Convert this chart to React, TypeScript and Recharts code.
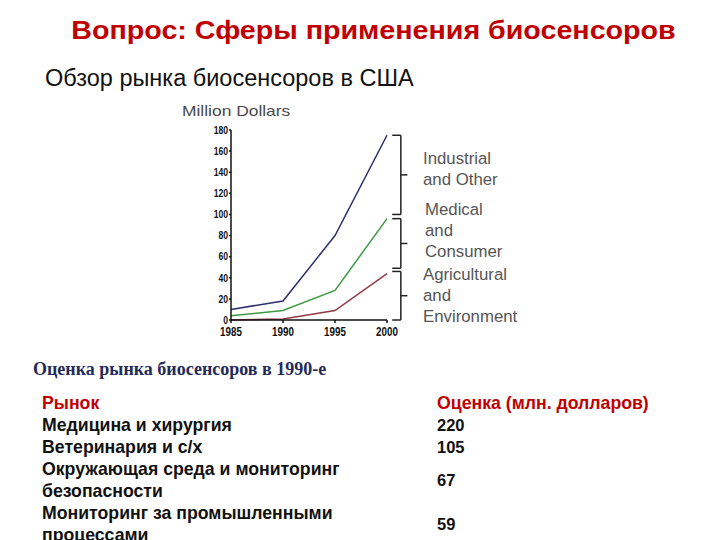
import React from "react";
import { LineChart, Line, XAxis, YAxis, ReferenceLine } from "recharts";

const years = [1985, 1990, 1995, 2000];
const industrial = [10, 18, 80, 175];
const medical = [4, 9, 28, 96];
const agricultural = [0, 1, 9, 44];
const yTicks = [0, 20, 40, 60, 80, 100, 120, 140, 160, 180];

const groupNames = [["Industrial", "and Other"], ["Medical", "and", "Consumer"], ["Agricultural", "and", "Environment"]];
const bracketRanges = [[100, 175], [49, 96], [0, 46]];

const markets = [
  "Медицина и хирургия",
  "Ветеринария и с/х",
  "Окружающая среда и мониторинг безопасности",
  "Мониторинг за промышленными процессами",
];
const estimates = [220, 105, 67, 59];

const data = years.map((y, i) => ({ year: y, industrial: industrial[i], medical: medical[i], agricultural: agricultural[i] }));

// bracket geometry in year units beyond the last year
const armStart = 2000.5;
const bracketX = 2001.33;
const tickEnd = 2001.96;

const sans = '"Liberation Sans", Arial, sans-serif';

const NarrowTick = (props: any) => {
  const { x, y, payload, textAnchor, fontSize, verticalAnchor } = props;
  const dy = verticalAnchor === "start" ? "0.71em" : verticalAnchor === "end" ? "0" : "0.355em";
  return (
    <g transform={`translate(${x},${y})`}>
      <text
        transform="scale(0.82,1)"
        x={0}
        y={0}
        dy={dy}
        textAnchor={textAnchor}
        fontSize={fontSize}
        fontWeight="bold"
        fill="#111"
        fontFamily={sans}
      >
        {payload.value}
      </text>
    </g>
  );
};

export default function App() {
  const bracketLines: React.ReactNode[] = [];
  bracketRanges.forEach(([lo, hi], i) => {
    const mid = (lo + hi) / 2;
    const segs = [
      [{ x: armStart, y: hi }, { x: bracketX, y: hi }],
      [{ x: bracketX, y: hi }, { x: bracketX, y: lo }],
      [{ x: armStart, y: lo }, { x: bracketX, y: lo }],
      [{ x: bracketX, y: mid }, { x: tickEnd, y: mid }],
    ];
    segs.forEach((s, j) =>
      bracketLines.push(
        <ReferenceLine key={`b${i}-${j}`} segment={s} stroke="#222" strokeWidth={1.5} ifOverflow="visible" />
      )
    );
  });

  return (
    <div style={{ position: "absolute", left: 0, top: 0, width: 720, height: 540, background: "#fff", overflow: "hidden", fontFamily: sans }}>
      <div
        style={{
          position: "absolute",
          left: 0,
          width: 747,
          top: 16,
          textAlign: "center",
          color: "#C00000",
          fontWeight: "bold",
          fontSize: 25,
          whiteSpace: "nowrap",
          transform: "scaleX(1.146)",
          transformOrigin: "373.5px 0",
        }}
      >
        Вопрос: Сферы применения биосенсоров
      </div>
      <div style={{ position: "absolute", left: 45, top: 65, color: "#111", fontSize: 23.5, whiteSpace: "nowrap" }}>
        Обзор рынка биосенсоров в США
      </div>

      <div
        style={{
          position: "absolute",
          left: 182,
          top: 102,
          color: "#4a4a4a",
          fontSize: 15,
          whiteSpace: "nowrap",
          transform: "scaleX(1.16)",
          transformOrigin: "0 0",
        }}
      >
        Million Dollars
      </div>

      <div style={{ position: "absolute", left: 170, top: 95 }}>
        <LineChart width={260} height={250} data={data} margin={{ top: 35, right: 43, bottom: 0, left: 0 }}>
          <XAxis
            dataKey="year"
            type="number"
            domain={[1985, 2000]}
            ticks={years}
            interval={0}
            height={25}
            tickSize={3}
            tickMargin={4}
            stroke="#111"
            strokeWidth={1.5}
            fontSize={12}
            tick={<NarrowTick />}
          />
          <YAxis
            type="number"
            domain={[0, 180]}
            ticks={yTicks}
            interval={0}
            width={61}
            tickSize={2}
            tickMargin={1}
            stroke="#111"
            strokeWidth={1.5}
            fontSize={10.5}
            tick={<NarrowTick />}
          />
          <Line dataKey="industrial" stroke="#2E2F6E" strokeWidth={1.5} dot={false} isAnimationActive={false} />
          <Line dataKey="medical" stroke="#3E9A45" strokeWidth={1.5} dot={false} isAnimationActive={false} />
          <Line dataKey="agricultural" stroke="#8E3B45" strokeWidth={1.5} dot={false} isAnimationActive={false} />
          {bracketLines}
        </LineChart>
      </div>

      {groupNames.map((lines, i) => (
        <div
          key={i}
          style={{
            position: "absolute",
            left: i === 1 ? 425 : 423,
            top: [148, 199, 264][i],
            color: "#555",
            fontSize: 16.8,
            lineHeight: "21px",
            whiteSpace: "nowrap",
          }}
        >
          {lines.map((l, k) => (
            <div key={k}>{l}</div>
          ))}
        </div>
      ))}

      <div
        style={{
          position: "absolute",
          left: 33,
          top: 359,
          color: "#1F2B5A",
          fontSize: 18,
          fontWeight: "bold",
          fontFamily: '"Liberation Serif", "Times New Roman", serif',
          whiteSpace: "nowrap",
        }}
      >
        Оценка рынка биосенсоров в 1990-е
      </div>

      <table
        style={{
          position: "absolute",
          left: 42,
          top: 392,
          borderCollapse: "collapse",
          fontWeight: "bold",
          fontSize: 17.7,
          lineHeight: "22px",
        }}
      >
        <tbody>
          <tr style={{ color: "#C00000" }}>
            <td style={{ padding: 0, width: 395, minWidth: 395 }}>Рынок</td>
            <td style={{ padding: 0, whiteSpace: "nowrap" }}>Оценка (млн. долларов)</td>
          </tr>
          {markets.map((m, i) => (
            <tr key={i} style={{ color: "#111" }}>
              <td style={{ padding: 0, width: 395, minWidth: 395, verticalAlign: "middle" }}>
                <div style={{ width: 360 }}>{m}</div>
              </td>
              <td style={{ padding: 0, verticalAlign: "middle", fontSize: 16.5 }}>{estimates[i]}</td>
            </tr>
          ))}
        </tbody>
      </table>
    </div>
  );
}
